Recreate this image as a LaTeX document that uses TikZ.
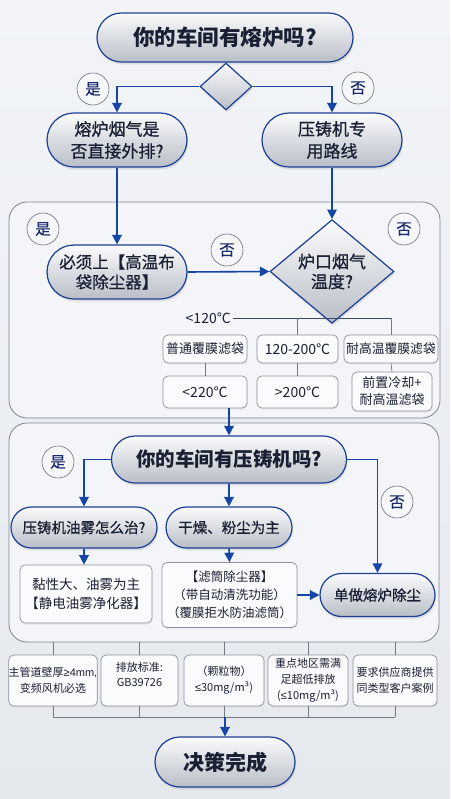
\documentclass[tikz,border=0pt]{standalone}
\usepackage{fontspec}
\setmainfont{Noto Sans CJK SC}
\newfontfamily\med[FakeBold=0.7]{Noto Sans CJK SC}
\newfontfamily\lat{Liberation Sans}
\usetikzlibrary{shapes.misc,shapes.geometric,arrows.meta,shadows,calc}
\definecolor{bgtop}{HTML}{F2F4F8}
\definecolor{bgbot}{HTML}{E5E9EE}
\definecolor{navy}{HTML}{1C3F94}
\definecolor{flow}{HTML}{1546A6}
\definecolor{txt}{HTML}{1A2033}
\definecolor{pilltop}{HTML}{FAFBFC}
\definecolor{pillbot}{HTML}{B9BEC7}
\definecolor{boxline}{HTML}{8C929C}
\definecolor{boxfill}{HTML}{FAFBFC}
\definecolor{grayline}{HTML}{737983}
\definecolor{darkline}{HTML}{3A4868}
\definecolor{contline}{HTML}{7F8591}
\definecolor{contfill}{HTML}{F3F5F8}
\definecolor{circline}{HTML}{6B7280}
\definecolor{circfill}{HTML}{F6F7F9}
\definecolor{circtxt}{HTML}{1A2A6C}
\newcommand{\fs}[2]{\fontsize{#1}{#2}\selectfont}
\tikzset{
  pill/.style={rounded rectangle, draw=navy, line width=1.2pt, top color=pilltop, bottom color=pillbot,
    text=txt, align=center, inner sep=0pt,
    drop shadow={opacity=0.18, shadow xshift=1pt, shadow yshift=-2.5pt}},
  dia/.style={diamond, draw=navy, line width=1.2pt, top color=pilltop, bottom color=pillbot,
    text=txt, align=center, inner sep=0pt,
    drop shadow={opacity=0.18, shadow xshift=1pt, shadow yshift=-2.5pt}},
  sbox/.style={rectangle, rounded corners=5pt, draw=boxline, line width=0.7pt, fill=boxfill,
    text=txt, align=center, inner sep=0pt,
    drop shadow={opacity=0.10, shadow xshift=0.5pt, shadow yshift=-1.5pt}},
  circ/.style={circle, draw=circline, line width=0.6pt, fill=circfill, minimum size=32pt,
    inner sep=0pt, font=\fs{15.5}{15}\med, text=circtxt},
  cont/.style={rectangle, rounded corners=18pt, draw=contline, line width=0.8pt, fill=contfill},
  flowarr/.style={draw=flow, line width=1.6pt, -{Triangle[length=9.5pt,width=9.5pt]}},
  gline/.style={draw=grayline, line width=0.7pt},
  dline/.style={draw=darkline, line width=1pt},
}
\begin{document}
\begin{tikzpicture}[x=1pt,y=-1pt]
\fill[top color=bgtop, bottom color=bgbot] (0,0) rectangle (450,799);
\useasboundingbox (0,0) rectangle (450,799);
% containers
\node[cont, minimum width=431pt, minimum height=216pt] (c1) at (224.5,310) {};
\node[cont, minimum width=430pt, minimum height=219pt] (c2) at (224,532.5) {};
% top part
\node[pill, minimum width=256pt, minimum height=49pt, font=\fs{21.5}{24}\bfseries] (top) at (225,37.5) {你的车间有熔炉吗?};
\node[dia, minimum width=52pt, minimum height=47pt] (d1) at (226,86.5) {};
\node[pill, minimum width=140pt, minimum height=54pt, font=\fs{17}{22}\med] (n1) at (117,140) {熔炉烟气是\\否直接外排?};
\node[pill, minimum width=140pt, minimum height=54pt, font=\fs{17}{22}\med] (n2) at (332,140) {压铸机专\\用路线};
\node[circ] (y1) at (93,89) {是};
\node[circ] (no1) at (358,88) {否};
\draw[flowarr] (d1.west) -| (n1.north);
\draw[flowarr] (d1.east) -| (n2.north);
% container 1
\node[pill, minimum width=140pt, minimum height=54pt, font=\fs{16.5}{20}\med] (n3) at (117,272) {必须上【高温布\\袋除尘器】};
\node[dia, minimum width=124pt, minimum height=92pt, font=\fs{17}{20}\med] (d2) at (332,271.5) {炉口烟气\\温度?};
\node[circ] (y2) at (43,229) {是};
\node[circ] (no2) at (227,250) {否};
\node[circ] (no3) at (404,229) {否};
\draw[flowarr] (n1.south) -- (n3.north);
\draw[flowarr] (n2.south) -- (d2.north);
\draw[flowarr] (n3.east) -- (d2.west);
\node[anchor=east, inner sep=0pt, font=\fs{14}{16}, text=txt] (lbl) at (231,318) {<120℃};
\node[sbox, minimum width=84pt, minimum height=28pt, font=\fs{13}{15}] (b1) at (205,349) {普通覆膜滤袋};
\node[sbox, minimum width=81pt, minimum height=28pt, font=\fs{14}{16}] (b2) at (297.5,349) {120-200℃};
\node[sbox, minimum width=94pt, minimum height=28pt, font=\fs{12.8}{15}] (b3) at (391,349) {耐高温覆膜滤袋};
\node[sbox, minimum width=84pt, minimum height=32pt, font=\fs{14}{16}] (b4) at (205,392) {<220℃};
\node[sbox, minimum width=81pt, minimum height=32pt, font=\fs{14}{16}] (b5) at (297.5,392) {>200℃};
\node[sbox, minimum width=80pt, minimum height=39pt, font=\fs{13}{17}] (b6) at (392,391.5) {前置冷却+\\耐高温滤袋};
\draw[dline] ([xshift=2pt]lbl.east) -- (b3.north |- lbl.east);
\draw[gline] (b2.north |- lbl.east) -- (b2.north);
\draw[gline] (b3.north |- lbl.east) -- (b3.north);
\draw[gline] (b1.south) -- (b4.north);
\draw[gline] (b2.south) -- (b5.north);
\draw[gline] (b3.south) -- (b6.north);
% container 2
\node[pill, minimum width=235pt, minimum height=47pt, font=\fs{19.5}{22}\bfseries] (m) at (229,459.5) {你的车间有压铸机吗?};
\draw[flowarr] (b4.south -| m.north) -- (m.north);
\node[pill, minimum width=146pt, minimum height=41pt, font=\fs{14.5}{17}\med] (p1) at (84,527.5) {压铸机油雾怎么治?};
\node[pill, minimum width=126pt, minimum height=41pt, font=\fs{14.5}{17}\med] (p2) at (229,527.5) {干燥、粉尘为主};
\node[sbox, minimum width=132pt, minimum height=58pt, font=\fs{13.5}{19}] (q1) at (86,594) {黏性大、油雾为主\\【静电油雾净化器】};
\node[sbox, minimum width=135pt, minimum height=65pt, font=\fs{12.5}{18}] (q2) at (229.5,595) {【滤筒除尘器】\\（带自动清洗功能）\\（覆膜拒水防油滤筒）};
\node[pill, minimum width=115pt, minimum height=43pt, font=\fs{14.5}{17}\med] (s) at (377.5,595) {单做熔炉除尘};
\node[circ] (y3) at (58,462) {是};
\node[circ] (no4) at (397,502) {否};
\draw[flowarr] (m.west) -| (p1.north);
\draw[flowarr] (m.east) -| (s.north);
\draw[flowarr] (m.south) -- (p2.north);
\draw[flowarr] (p1.south) -- (p1.south |- q1.north);
\draw[flowarr] (p2.south) -- (q2.north);
\draw[flowarr] (q2.east) -- (s.west);
% bottom boxes
\node[sbox, minimum width=88pt, minimum height=51pt, font=\fs{11}{16}] (r1) at (53,680.5) {主管道壁厚{\lat ≥4mm,}\\变频风机必选};
\node[sbox, minimum width=77pt, minimum height=51pt] (r2) at (139.5,680.5) {};
\node[inner sep=0pt, align=center, text=txt, font=\fs{11}{15}] (r2t) at (139.5,674.5) {排放标准:\\GB39726};
\node[sbox, minimum width=80pt, minimum height=51pt, font=\fs{11}{16}] (r3) at (224,680.5) {（颗粒物）\\{\lat ≤}30mg/m³)};
\node[sbox, minimum width=80pt, minimum height=51pt, font=\fs{11}{16}] (r4) at (308,680.5) {重点地区需满\\足超低排放\\({\lat ≤}10mg/m³)};
\node[sbox, minimum width=84pt, minimum height=51pt, font=\fs{11}{16}] (r5) at (395,680.5) {要求供应商提供\\同类型客户案例};
\coordinate (bus) at (225,717);
\foreach \r in {r1,r2,r3,r4,r5}{
  \draw[gline] (\r.north |- c2.south) -- (\r.north);
  \draw[gline] (\r.south) -- (\r.south |- bus);
}
\draw[gline] (r1.south |- bus) -- (r5.south |- bus);
\node[pill, minimum width=140pt, minimum height=50pt, font=\fs{21}{24}\bfseries] (end) at (225,762) {决策完成};
\draw[flowarr] (end.north |- bus) -- (end.north);
\end{tikzpicture}
\end{document}
